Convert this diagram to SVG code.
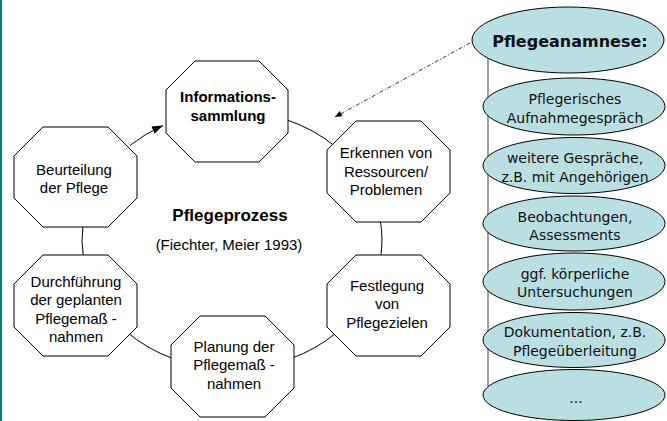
<svg xmlns="http://www.w3.org/2000/svg" width="667" height="421" viewBox="0 0 667 421">
<style>
.oct{fill:#fff;stroke:#000;stroke-width:1}
.t{font-family:"Liberation Sans",Arial,sans-serif;font-size:15px;fill:#000;text-anchor:middle}
.b{font-weight:bold}
.conn{fill:none;stroke:#000;stroke-width:1}
.ell{fill:#b9dfe2;stroke:#000;stroke-width:1}
.r{font-family:"DejaVu Sans",Verdana,sans-serif;font-size:14px;fill:#111;text-anchor:middle}
</style>
<defs>
<marker id="ah" markerUnits="userSpaceOnUse" markerWidth="12" markerHeight="8" refX="11" refY="4" orient="auto">
<path d="M0,0 L11,4 L0,8 z" fill="#000"/>
</marker>
<marker id="ah2" markerUnits="userSpaceOnUse" markerWidth="8" markerHeight="6" refX="7" refY="3" orient="auto">
<path d="M0,0 L7,3 L0,6 z" fill="#000"/>
</marker>
</defs>
<rect x="0" y="0" width="667" height="421" fill="#fff"/>
<rect x="0" y="0" width="2" height="421" fill="#008080"/>

<g id="connectors">
<path class="conn" d="M286,119.6 A150,129 0 0 1 335,146.2"/>
<path class="conn" d="M380.2,220 A150,129 0 0 1 380.5,258"/>
<path class="conn" d="M335,333.8 A150,129 0 0 1 292,358.2"/>
<path class="conn" d="M173,358.6 A150,129 0 0 1 126,331.3"/>
<path class="conn" d="M83.5,258 A150,129 0 0 1 83,225"/>
<path class="conn" d="M130,145.4 A150,129 0 0 1 163,125.6" marker-end="url(#ah)"/>
<line x1="470" y1="43" x2="335" y2="117" stroke="#333" stroke-width="1" stroke-dasharray="4 2 1 2" marker-end="url(#ah2)"/>
<line x1="488" y1="58" x2="488" y2="386" stroke="#808080" stroke-width="1.5"/>
</g>

<g id="n-info">
<polygon class="oct" points="195,61 259,61 288,90 288,133 259,162 195,162 166,133 166,90"/>
<text class="t b" x="228" y="102">Informations-</text>
<text class="t b" x="228" y="121">sammlung</text>
</g>
<g id="n-erkennen">
<polygon class="oct" points="356,121 421,121 450,150 450,193 421,222 356,222 327,193 327,150"/>
<text class="t" x="386" y="158">Erkennen von</text>
<text class="t" x="386" y="177">Ressourcen/</text>
<text class="t" x="386" y="195">Problemen</text>
</g>
<g id="n-festlegung">
<polygon class="oct" points="356,255 421,255 450,284 450,327 421,356 356,356 327,327 327,284"/>
<text class="t" x="387" y="291">Festlegung</text>
<text class="t" x="387" y="309">von</text>
<text class="t" x="387" y="328">Pflegezielen</text>
</g>
<g id="n-planung">
<polygon class="oct" points="200,316 265,316 294,345 294,388 265,417 200,417 171,388 171,345"/>
<text class="t" x="234" y="352">Planung der</text>
<text class="t" x="234" y="370">Pflegemaß -</text>
<text class="t" x="234" y="389">nahmen</text>
</g>
<g id="n-durchfuehrung">
<polygon class="oct" points="43,255 108,255 137,284 137,327 108,356 43,356 14,327 14,284"/>
<text class="t" x="76" y="286.5">Durchführung</text>
<text class="t" x="76" y="305">der geplanten</text>
<text class="t" x="76" y="323.5">Pflegemaß -</text>
<text class="t" x="76" y="342">nahmen</text>
</g>
<g id="n-beurteilung">
<polygon class="oct" points="43,127 108,127 137,156 137,198 108,227 43,227 14,198 14,156"/>
<text class="t" x="74" y="175">Beurteilung</text>
<text class="t" x="74" y="193">der Pflege</text>
</g>
<g id="title">
<text class="t b" x="230" y="221" style="font-size:17px">Pflegeprozess</text>
<text class="t" x="229" y="250">(Fiechter, Meier 1993)</text>
</g>

<g id="n-anamnese">
<ellipse class="ell" cx="568" cy="40" rx="96" ry="33"/>
<text class="r b" x="570" y="47" style="font-size:16px">Pflegeanamnese:</text>
</g>
<g id="e1">
<ellipse class="ell" cx="574" cy="106.5" rx="91" ry="28.5"/>
<text class="r" x="575" y="104">Pflegerisches</text>
<text class="r" x="575" y="123">Aufnahmegespräch</text>
</g>
<g id="e2">
<ellipse class="ell" cx="574" cy="165.5" rx="91" ry="28"/>
<text class="r" x="575" y="163">weitere Gespräche,</text>
<text class="r" x="575" y="182">z.B. mit Angehörigen</text>
</g>
<g id="e3">
<ellipse class="ell" cx="574" cy="223.5" rx="91" ry="27.5"/>
<text class="r" x="575" y="221.5">Beobachtungen,</text>
<text class="r" x="575" y="240">Assessments</text>
</g>
<g id="e4">
<ellipse class="ell" cx="574" cy="281.5" rx="91" ry="28.5"/>
<text class="r" x="575" y="278.5">ggf. körperliche</text>
<text class="r" x="575" y="297">Untersuchungen</text>
</g>
<g id="e5">
<ellipse class="ell" cx="574" cy="340" rx="91" ry="27.5"/>
<text class="r" x="575" y="337">Dokumentation, z.B.</text>
<text class="r" x="575" y="355.5">Pflegeüberleitung</text>
</g>
<g id="e6">
<ellipse class="ell" cx="574" cy="395" rx="91" ry="25.5"/>
<text class="r" x="576" y="403">...</text>
</g>
</svg>
